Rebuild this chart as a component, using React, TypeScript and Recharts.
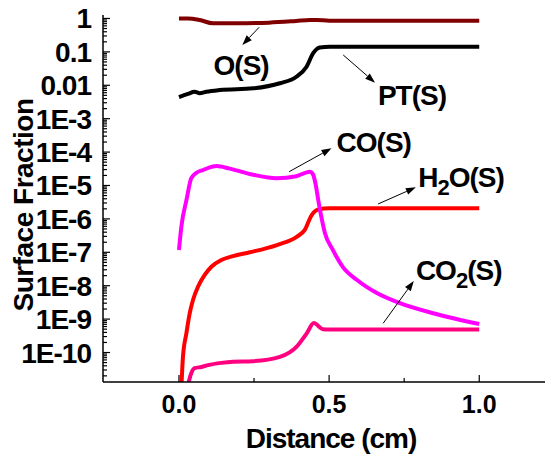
import React from 'react';
import { LineChart, Line, XAxis, YAxis, ReferenceLine, ReferenceDot } from 'recharts';

const FONT = '"Liberation Sans", Arial, Helvetica, sans-serif';

// ---------- data (x in cm, y = surface fraction) ----------
const oData = [
  { x: 0.0, y: 1.0 }, { x: 0.03, y: 1.0 }, { x: 0.069, y: 0.9 }, { x: 0.113, y: 0.72 },
  { x: 0.19, y: 0.72 }, { x: 0.3, y: 0.75 }, { x: 0.39, y: 0.84 }, { x: 0.436, y: 0.9 },
  { x: 0.46, y: 0.9 }, { x: 0.5, y: 0.86 }, { x: 1.0, y: 0.86 },
];
const ptData = [
  { x: 0.0, y: 0.0044 }, { x: 0.03, y: 0.0055 }, { x: 0.052, y: 0.0064 }, { x: 0.069, y: 0.0058 },
  { x: 0.091, y: 0.0064 }, { x: 0.136, y: 0.0072 }, { x: 0.247, y: 0.0081 }, { x: 0.336, y: 0.0115 },
  { x: 0.391, y: 0.018 }, { x: 0.425, y: 0.036 }, { x: 0.447, y: 0.091 }, { x: 0.469, y: 0.135 },
  { x: 0.502, y: 0.142 }, { x: 1.0, y: 0.142 },
];
const coData = [
  { x: 0.0, y: 1.17e-7 }, { x: 0.008, y: 5.9e-7 }, { x: 0.025, y: 3.7e-6 }, { x: 0.041, y: 1.65e-5 },
  { x: 0.058, y: 2.4e-5 }, { x: 0.08, y: 2.9e-5 }, { x: 0.125, y: 3.8e-5 }, { x: 0.169, y: 3.2e-5 },
  { x: 0.247, y: 2.1e-5 }, { x: 0.325, y: 1.65e-5 }, { x: 0.391, y: 1.9e-5 }, { x: 0.436, y: 2.6e-5 },
  { x: 0.447, y: 2.1e-5 }, { x: 0.455, y: 1.1e-5 }, { x: 0.465, y: 3.2e-6 }, { x: 0.475, y: 1.05e-6 },
  { x: 0.486, y: 3.8e-7 }, { x: 0.512, y: 1.2e-7 }, { x: 0.546, y: 3.6e-8 }, { x: 0.592, y: 1.5e-8 },
  { x: 0.659, y: 6.0e-9 }, { x: 0.736, y: 3.0e-9 }, { x: 0.846, y: 1.5e-9 }, { x: 1.0, y: 7.1e-10 },
];
const h2oData = [
  { x: 0.004, y: 1e-12 }, { x: 0.0133, y: 7.5e-11 }, { x: 0.0247, y: 3.76e-10 }, { x: 0.0357, y: 1.49e-9 },
  { x: 0.0467, y: 3.73e-9 }, { x: 0.0633, y: 9.3e-9 }, { x: 0.0857, y: 2.1e-8 }, { x: 0.108, y: 3.7e-8 },
  { x: 0.141, y: 5.9e-8 }, { x: 0.18, y: 7.7e-8 }, { x: 0.236, y: 1.0e-7 }, { x: 0.326, y: 1.65e-7 },
  { x: 0.392, y: 2.9e-7 }, { x: 0.419, y: 4.7e-7 }, { x: 0.442, y: 1.3e-6 }, { x: 0.462, y: 1.9e-6 },
  { x: 0.502, y: 2.08e-6 }, { x: 1.0, y: 2.08e-6 },
];
const co2Data = [
  { x: 0.028, y: 9e-12 }, { x: 0.041, y: 2.4e-11 }, { x: 0.052, y: 3.4e-11 }, { x: 0.075, y: 3.7e-11 },
  { x: 0.097, y: 4.2e-11 }, { x: 0.141, y: 4.9e-11 }, { x: 0.18, y: 5.3e-11 }, { x: 0.246, y: 5.5e-11 },
  { x: 0.336, y: 7.4e-11 }, { x: 0.392, y: 1.5e-10 }, { x: 0.426, y: 3.8e-10 }, { x: 0.449, y: 7.6e-10 },
  { x: 0.479, y: 5.0e-10 }, { x: 0.502, y: 4.9e-10 }, { x: 1.0, y: 4.9e-10 },
];

// ---------- ticks ----------
const xMajorTicks = [0, 0.5, 1.0];
const xMinorTicks = [0.25, 0.75];
const topTicks = [0.05, 0.2, 0.35, 0.5, 0.65, 0.8, 0.95, 1.1];
const yMajorTicks = [1, 0.1, 0.01, 1e-3, 1e-4, 1e-5, 1e-6, 1e-7, 1e-8, 1e-9, 1e-10];
const yMajorLabels = ['1', '0.1', '0.01', '1E-3', '1E-4', '1E-5', '1E-6', '1E-7', '1E-8', '1E-9', '1E-10'];
const yMinorMultipliers = [2, 3, 4, 5, 6, 7, 8, 9];

// ---------- annotations (data coordinates) ----------
const arrowSegments = [
  { from: { x: 0.267, y: 0.545 }, to: { x: 0.211, y: 0.161 } },
  { from: { x: 0.547, y: 0.0807 }, to: { x: 0.653, y: 0.012 } },
  { from: { x: 0.367, y: 2.59e-5 }, to: { x: 0.508, y: 1.3e-4 } },
  { from: { x: 0.663, y: 2.79e-6 }, to: { x: 0.789, y: 8.83e-6 } },
  { from: { x: 0.68, y: 7.48e-10 }, to: { x: 0.782, y: 1.38e-8 } },
];
const seriesLabels = [
  { x: 0.207, y: 0.0203, anchor: 'middle', parts: [['O(S)', false]] },
  { x: 0.776, y: 0.00257, anchor: 'middle', parts: [['PT(S)', false]] },
  { x: 0.525, y: 1.03e-4, anchor: 'start', parts: [['CO(S)', false]] },
  { x: 0.797, y: 9.2e-6, anchor: 'start', parts: [['H', false], ['2', true], ['O(S)', false]] },
  { x: 0.789, y: 1.48e-8, anchor: 'start', parts: [['CO', false], ['2', true], ['(S)', false]] },
];

const yMin = 1.31e-11;
const yMax = 1.27;
const yAllTicks: number[] = [];
yMajorTicks.forEach((t) => {
  yAllTicks.push(t);
  yMinorMultipliers.forEach((m) => {
    const v = t * m;
    if (v < yMax && v > yMin) yAllTicks.push(v);
  });
});
yMinorMultipliers.forEach((m) => {
  const v = 1e-11 * m;
  if (v > yMin) yAllTicks.push(v);
});

const isMajorY = (v: number) =>
  yMajorTicks.findIndex((t) => Math.abs(Math.log10(t) - Math.log10(v)) < 1e-6);

const YTick = (props: any) => {
  const { x, y, payload } = props;
  const idx = isMajorY(payload.value);
  const major = idx >= 0;
  return (
    <g>
      <line x1={x} x2={x + (major ? 7 : 4)} y1={y} y2={y} stroke="#000" strokeWidth={1.2} />
      {major && (
        <text x={x - 12} y={y + 10} textAnchor="end" fontFamily={FONT} fontSize={28}
          fontWeight="bold" letterSpacing={-1} fill="#000">
          {yMajorLabels[idx]}
        </text>
      )}
    </g>
  );
};

const XTick = (props: any) => {
  const { x, y, payload } = props;
  const major = xMajorTicks.some((t) => Math.abs(t - payload.value) < 1e-9);
  return (
    <g>
      <line x1={x} x2={x} y1={y} y2={y - (major ? 7 : 4)} stroke="#000" strokeWidth={1.2} />
      {major && (
        <text x={x} y={y + 31} textAnchor="middle" fontFamily={FONT} fontSize={25}
          fontWeight="bold" fill="#000">
          {payload.value.toFixed(1)}
        </text>
      )}
    </g>
  );
};

const TopTick = (props: any) => {
  const { x, y } = props;
  return <line x1={x} x2={x} y1={y} y2={y + 4} stroke="#000" strokeWidth={1.2} />;
};

const XLabel = (props: any) => {
  const vb = props.viewBox || { x: 103, y: 382, width: 442, height: 80 };
  return (
    <text x={vb.x + vb.width / 2 + 7} y={vb.y + 66} textAnchor="middle" fontFamily={FONT}
      fontSize={28} fontWeight="bold" letterSpacing={-1} fill="#000">
      Distance (cm)
    </text>
  );
};

const YLabel = (props: any) => {
  const vb = props.viewBox || { x: 0, y: 15, width: 103, height: 367 };
  const cx = vb.x + 33;
  const cy = vb.y + vb.height / 2 + 6.5;
  return (
    <text x={cx} y={cy} transform={`rotate(-90, ${cx}, ${cy})`} textAnchor="middle"
      fontFamily={FONT} fontSize={28} fontWeight="bold" letterSpacing={-0.5} fill="#000">
      Surface Fraction
    </text>
  );
};

const Arrow = (props: any) => {
  const { x1, y1, x2, y2 } = props;
  const ang = Math.atan2(y2 - y1, x2 - x1);
  const L = 10;
  const W = 3.5;
  const bx = x2 - L * Math.cos(ang);
  const by = y2 - L * Math.sin(ang);
  const px = -Math.sin(ang) * W;
  const py = Math.cos(ang) * W;
  return (
    <g>
      <line x1={x1} y1={y1} x2={bx} y2={by} stroke="#000" strokeWidth={1} />
      <polygon points={`${x2},${y2} ${bx + px},${by + py} ${bx - px},${by - py}`} fill="#000" />
    </g>
  );
};

const makeLabelShape = (lab: any) => (p: any) => (
  <text x={p.cx} y={p.cy} textAnchor={lab.anchor} fontFamily={FONT} fontSize={28}
    fontWeight="bold" letterSpacing={-1} fill="#000">
    {lab.parts.map((pt: any, i: number) => {
      const prevSub = i > 0 && lab.parts[i - 1][1];
      const dy = pt[1] ? 8 : prevSub ? -8 : 0;
      return (
        <tspan key={i} dy={dy} fontSize={pt[1] ? 22 : 28}>
          {pt[0]}
        </tspan>
      );
    })}
  </text>
);

export default function App() {
  return (
    <div style={{ position: 'absolute', left: 0, top: 0, background: '#fff' }}>
      <LineChart width={546} height={462} margin={{ top: 15, right: 1, bottom: 0, left: 0 }}>
        <XAxis
          dataKey="x"
          type="number"
          domain={[-0.253, 1.219]}
          allowDataOverflow
          ticks={[...xMajorTicks, ...xMinorTicks].sort((a, b) => a - b)}
          interval={0}
          tick={<XTick />}
          tickLine={false}
          tickSize={0}
          tickMargin={0}
          height={80}
          axisLine={{ stroke: '#000', strokeWidth: 1.5 }}
          label={{ content: XLabel }}
        />
        <XAxis
          xAxisId="top"
          orientation="top"
          type="number"
          domain={[-0.253, 1.219]}
          allowDataOverflow
          ticks={topTicks}
          interval={0}
          tick={<TopTick />}
          tickLine={false}
          tickSize={0}
          tickMargin={0}
          height={0}
          axisLine={{ stroke: '#000', strokeWidth: 1.5 }}
        />
        <YAxis
          type="number"
          scale="log"
          domain={[yMin, yMax]}
          allowDataOverflow
          ticks={yAllTicks}
          interval={0}
          tick={<YTick />}
          tickLine={false}
          tickSize={0}
          tickMargin={0}
          width={103}
          axisLine={{ stroke: '#000', strokeWidth: 1.5 }}
          label={{ content: YLabel }}
        />
        <Line data={oData} dataKey="y" type="monotone" stroke="#800000" strokeWidth={4}
          dot={false} isAnimationActive={false} />
        <Line data={ptData} dataKey="y" type="monotone" stroke="#000000" strokeWidth={4}
          dot={false} isAnimationActive={false} />
        <Line data={h2oData} dataKey="y" type="monotone" stroke="#FF0000" strokeWidth={4}
          dot={false} isAnimationActive={false} />
        <Line data={co2Data} dataKey="y" type="monotone" stroke="#FF0080" strokeWidth={4}
          dot={false} isAnimationActive={false} />
        <Line data={coData} dataKey="y" type="monotone" stroke="#FF00FF" strokeWidth={4}
          dot={false} isAnimationActive={false} />
        {arrowSegments.map((s, i) => (
          <ReferenceLine key={`a${i}`} segment={[s.from, s.to]} shape={Arrow} ifOverflow="visible" />
        ))}
        {seriesLabels.map((lab, i) => (
          <ReferenceDot key={`l${i}`} x={lab.x} y={lab.y} r={0} ifOverflow="visible"
            shape={makeLabelShape(lab)} />
        ))}
      </LineChart>
    </div>
  );
}
